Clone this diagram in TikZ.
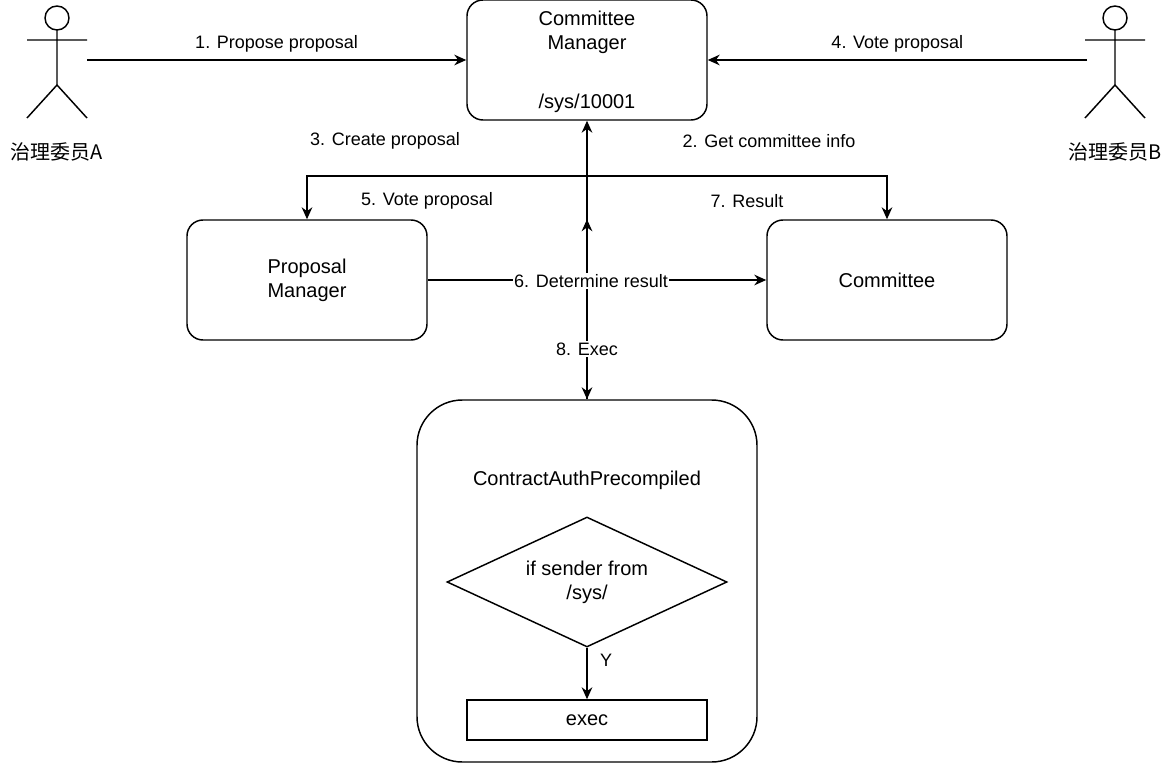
\documentclass[tikz,border=0pt]{standalone}
\usepackage{fontspec}
\setmainfont{Liberation Sans}
\newfontfamily\cjk{Noto Sans CJK SC}
\usetikzlibrary{shapes.geometric,arrows.meta}
\begin{document}
\begin{tikzpicture}[x=0.75pt,y=-0.75pt,
  box/.style={draw,line width=1.1pt,rounded corners=12pt,inner sep=0pt,font=\fontsize{15}{18}\selectfont,align=center},
  arr/.style={line width=1.1pt,-{Stealth[length=9pt,width=8pt]}},
  lab/.style={font=\fontsize{13.5}{16}\selectfont,inner sep=1pt},
  act/.style={line width=1.1pt}]
\useasboundingbox (0,0) rectangle (1172,764);
\node[box,minimum width=180pt,minimum height=90pt] (cm) at (587,60) {};
\node[font=\fontsize{15}{18}\selectfont,align=center] (cmt) at (587,32) {Committee\\Manager};
\node[font=\fontsize{15}{18}\selectfont] (cms) at (587,103) {/sys/10001};
\node[box,minimum width=180pt,minimum height=90pt] (pm) at (307,280) {Proposal\\Manager};
\node[box,minimum width=180pt,minimum height=90pt] (cc) at (887,280) {Committee};
\node[box,rounded corners=34pt,minimum width=255pt,minimum height=271.5pt] (ca) at (587,581) {};
\node[font=\fontsize{15}{18}\selectfont] (cat) at (587,480) {ContractAuthPrecompiled};
\node[draw,line width=1.1pt,diamond,aspect=2.15,minimum width=210pt,minimum height=97.5pt,inner sep=0pt,font=\fontsize{15}{18}\selectfont,align=center] (dm) at (587,582) {if sender from\\/sys/};
\node[draw,line width=1.1pt,minimum width=180pt,minimum height=30pt,inner sep=0pt,font=\fontsize{15}{18}\selectfont] (ex) at (587,720) {exec};
% actors
\foreach \n/\cx/\t in {a/57/治理委员A,b/1115/治理委员B}{
  \draw[act] (\cx,18) circle (9pt);
  \draw[act] (\cx,30) -- (\cx,85) (\cx-30,40) -- (\cx+30,40) (\cx-30,118) -- (\cx,85) -- (\cx+30,118);
  \node[font=\fontsize{15}{18}\selectfont] (\n) at (\cx,152) {\cjk\t};
}
\coordinate (pa) at (87,60);
\coordinate (pb) at (1087,60);
\draw[arr] (pa) -- (cm.west) node[lab,midway,above=4pt] {1. Propose proposal};
\draw[arr] (pb) -- (cm.east) node[lab,midway,above=4pt] {4. Vote proposal};
\coordinate (j) at (587,176);
\draw[arr] (pm.north -| j) ++(0,0) coordinate (dummy);
\draw[arr] (j) -| (pm.north);
\draw[arr] (j) -| (cc.north);
\draw[arr] (ca.north) -- (cm.south);
\draw[arr] (j) -- (ca.north);
\draw[arr] (pm.east) -- (cc.west);
\node[lab,fill=white] (l6) at (591,281) {6. Determine result};
\node[lab,fill=white] (l8) at (587,349) {8. Exec};
\node[lab] (l3) at (385,141) {3. Create proposal};
\node[lab] (l2) at (769,141) {2. Get committee info};
\node[lab] (l5) at (427,201) {5. Vote proposal};
\node[lab] (l7) at (747,201) {7. Result};
\draw[arr] (dm.south) -- (ex.north);
\node[lab] (ly) at (606,660) {Y};
\end{tikzpicture}
\end{document}
